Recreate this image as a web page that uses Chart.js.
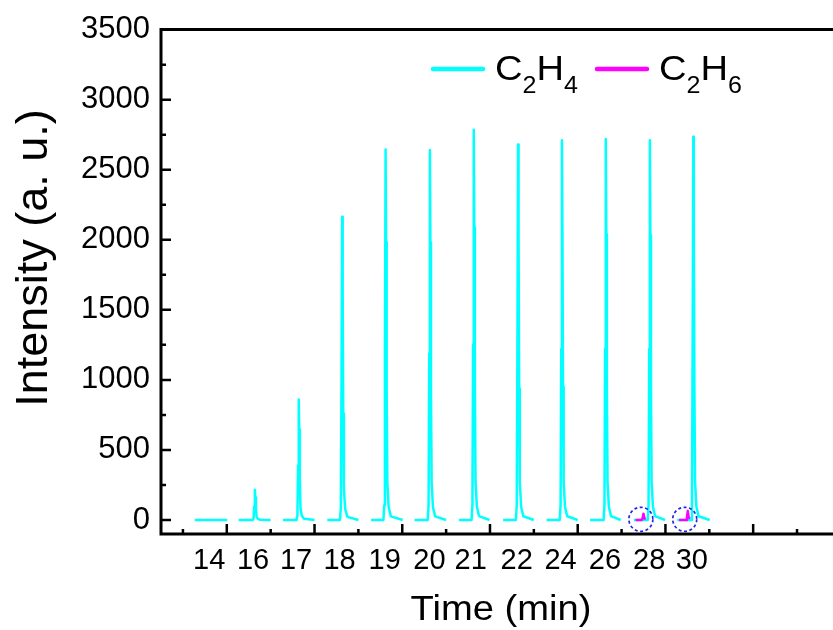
<!DOCTYPE html>
<html>
<head>
<meta charset="utf-8">
<script src="https://cdn.jsdelivr.net/npm/chart.js@4.4.0/dist/chart.umd.min.js"></script>
<style>
  html, body { margin: 0; padding: 0; background: #fff; }
  #wrap { position: relative; width: 833px; height: 630px; }
</style>
</head>
<body>
<div id="wrap"><canvas id="chart"></canvas></div>
<script>
// GC runs laid side by side: one window per sampling time (min)
const segmentLabels = ['14', '16', '17', '18', '19', '20', '21', '22', '24', '26', '28', '30'];
const labelTimes = [1.6, 2.6, 3.58, 4.57, 5.6, 6.62, 7.56, 8.61, 9.61, 10.62, 11.63, 12.6];
const yTickValues = [0, 500, 1000, 1500, 2000, 2500, 3000, 3500];
const seriesNames = ['C2H4', 'C2H6'];

// C2H4 trace, null = gap between runs
const c2h4Time = [
  1.27, 2.01, null,
  2.27, 2.59, 2.61, 2.625, 2.64, 2.652, 2.665, 2.68, 2.71, 2.76, 3.00, null,
  3.28, 3.59, 3.61, 3.625, 3.64, 3.652, 3.665, 3.68, 3.71, 3.76, 4.00, null,
  4.29, 4.58, 4.60, 4.615, 4.63, 4.642, 4.655, 4.67, 4.70, 4.75, 5.00, null,
  5.29, 5.57, 5.59, 5.605, 5.62, 5.632, 5.645, 5.66, 5.69, 5.74, 6.01, null,
  6.28, 6.58, 6.60, 6.615, 6.63, 6.642, 6.655, 6.67, 6.70, 6.75, 7.00, null,
  7.29, 7.58, 7.60, 7.615, 7.63, 7.642, 7.655, 7.67, 7.70, 7.75, 7.99, null,
  8.30, 8.59, 8.61, 8.625, 8.64, 8.652, 8.665, 8.68, 8.71, 8.76, 9.00, null,
  9.29, 9.59, 9.61, 9.625, 9.64, 9.652, 9.665, 9.68, 9.71, 9.76, 10.00, null,
  10.28, 10.59, 10.61, 10.625, 10.64, 10.652, 10.665, 10.68, 10.71, 10.76, 10.98, null,
  11.28, 11.595, 11.615, 11.63, 11.645, 11.657, 11.67, 11.685, 11.715, 11.765, 11.99, null,
  12.27, 12.585, 12.605, 12.62, 12.635, 12.647, 12.66, 12.675, 12.705, 12.755, 13.01
];
const c2h4Signal = [
  0, 0, null,
  0, 0, 9, 97, 215, 161, 75, 22, 8, 2, 0, null,
  0, 0, 34, 387, 860, 645, 301, 86, 30, 9, 0, null,
  0, 0, 87, 974, 2165, 1624, 758, 217, 76, 22, 0, null,
  0, 0, 106, 1190, 2645, 1984, 926, 265, 93, 26, 0, null,
  0, 0, 106, 1188, 2640, 1980, 924, 264, 92, 26, 0, null,
  0, 0, 111, 1253, 2785, 2089, 975, 279, 97, 28, 0, null,
  0, 0, 107, 1206, 2680, 2010, 938, 268, 94, 27, 0, null,
  0, 0, 108, 1220, 2710, 2033, 949, 271, 95, 27, 0, null,
  0, 0, 109, 1224, 2720, 2040, 952, 272, 95, 27, 0, null,
  0, 0, 108, 1220, 2710, 2033, 949, 271, 95, 27, 0, null,
  0, 0, 109, 1231, 2735, 2051, 957, 274, 96, 27, 0
];

// C2H6 only shows up in the last two runs
const c2h6Time = [11.32, 11.46, 11.48, 11.50, 11.52, 11.55, null, 12.31, 12.47, 12.49, 12.51, 12.53, 12.56];
const c2h6Signal = [0, 0, 15, 45, 12, 8, null, 0, 0, 20, 65, 18, 10];

// dashed circles marking the C2H6 peaks
const circleTimes = [11.44, 12.44];
const circleLevels = [5, 5];

const FONT = "'Liberation Sans', Arial, sans-serif";
const COLORS = ['#00ffff', '#ff00ff'];

function toPoints(times, values) {
  return times.map((t, i) => ({ x: t, y: values[i] }));
}

// black frame (no right side) with inward ticks
const frameTicks = {
  id: 'frameTicks',
  afterDraw(chart) {
    const { ctx, chartArea: a, scales } = chart;
    const x = scales.x, y = scales.y;
    ctx.save();
    ctx.strokeStyle = '#000';
    ctx.lineWidth = 3;
    ctx.beginPath();
    ctx.moveTo(a.right, a.top);
    ctx.lineTo(a.left, a.top);
    ctx.lineTo(a.left, a.bottom);
    ctx.lineTo(a.right, a.bottom);
    ctx.stroke();

    ctx.lineWidth = 2.5;
    ctx.beginPath();
    for (let v = 0; v <= 3500; v += 250) {
      const py = y.getPixelForValue(v);
      const len = v % 500 === 0 ? 10 : 5;
      ctx.moveTo(a.left, py);
      ctx.lineTo(a.left + len, py);
    }
    for (let v = 1; v <= 15; v++) {
      const px = x.getPixelForValue(v);
      const len = v % 2 === 0 ? 10 : 5;
      ctx.moveTo(px, a.bottom);
      ctx.lineTo(px, a.bottom - len);
    }
    ctx.stroke();
    ctx.restore();
  }
};

const circleMarks = {
  id: 'circleMarks',
  afterDatasetsDraw(chart) {
    const { ctx, scales } = chart;
    ctx.save();
    ctx.strokeStyle = '#2323e8';
    ctx.lineWidth = 1.7;
    ctx.setLineDash([3, 2.5]);
    circleTimes.forEach((t, i) => {
      const px = scales.x.getPixelForValue(t);
      const py = scales.y.getPixelForValue(circleLevels[i]);
      ctx.beginPath();
      ctx.arc(px, py, 12, 0, Math.PI * 2);
      ctx.stroke();
    });
    ctx.restore();
  }
};

// text with the digits drawn as subscripts, slightly widened like the original export
function drawFormula(ctx, text, x, base, big, small, stretch) {
  for (const ch of text) {
    const sub = /[0-9]/.test(ch);
    ctx.font = (sub ? small : big) + 'px ' + FONT;
    ctx.save();
    ctx.translate(x, sub ? base + 13 : base);
    ctx.scale(stretch, 1);
    ctx.fillText(ch, 0, 0);
    ctx.restore();
    x += ctx.measureText(ch).width * stretch;
  }
  return x;
}

const formulaLegend = {
  id: 'formulaLegend',
  afterDraw(chart) {
    const ctx = chart.ctx;
    ctx.save();
    ctx.fillStyle = '#000';
    ctx.textBaseline = 'alphabetic';
    let x = 433;
    seriesNames.forEach((name, i) => {
      ctx.strokeStyle = COLORS[i];
      ctx.lineWidth = 4.5;
      ctx.lineCap = 'round';
      ctx.beginPath();
      ctx.moveTo(x, 69);
      ctx.lineTo(x + 50, 69);
      ctx.stroke();
      x = drawFormula(ctx, name, x + 62, 80, 35, 23, 1.09) + 19;
    });
    ctx.restore();
  }
};

const axisTitles = {
  id: 'axisTitles',
  afterDraw(chart) {
    const ctx = chart.ctx;
    ctx.save();
    ctx.fillStyle = '#000';
    ctx.textAlign = 'center';
    ctx.textBaseline = 'alphabetic';
    ctx.font = '35px ' + FONT;
    ctx.save();
    ctx.translate(501, 620);
    ctx.scale(1.09, 1);
    ctx.fillText('Time (min)', 0, 0);
    ctx.restore();
    ctx.translate(47, 258);
    ctx.rotate(-Math.PI / 2);
    ctx.font = '45px ' + FONT;
    ctx.fillText('Intensity (a. u.)', 0, 0);
    ctx.restore();
  }
};

new Chart(document.getElementById('chart'), {
  type: 'line',
  data: {
    datasets: [
      {
        label: seriesNames[0],
        data: toPoints(c2h4Time, c2h4Signal),
        borderColor: COLORS[0],
        borderWidth: 2.5,
        order: 1
      },
      {
        label: seriesNames[1],
        data: toPoints(c2h6Time, c2h6Signal),
        borderColor: COLORS[1],
        borderWidth: 2.5,
        order: 0
      }
    ]
  },
  options: {
    responsive: true,
    maintainAspectRatio: false,
    animation: false,
    spanGaps: false,
    layout: { padding: { top: 28, left: 0, right: 0, bottom: 0 } },
    elements: {
      point: { radius: 0 },
      line: { tension: 0, borderJoinStyle: 'round', fill: false }
    },
    plugins: {
      legend: { display: false },
      tooltip: { enabled: false }
    },
    scales: {
      x: {
        type: 'linear',
        min: 0.5,
        max: 15.82,
        afterBuildTicks: s => { s.ticks = labelTimes.map(v => ({ value: v })); },
        afterFit: s => { s.height = 96; },
        grid: { display: false, drawTicks: false },
        border: { display: false },
        ticks: {
          autoSkip: false,
          maxRotation: 0,
          padding: 10,
          color: '#000',
          font: { family: FONT, size: 29 },
          callback: (v, i) => segmentLabels[i]
        }
      },
      y: {
        min: -100,
        max: 3500,
        afterBuildTicks: s => { s.ticks = yTickValues.map(v => ({ value: v })); },
        afterFit: s => { s.width = 161; },
        grid: { display: false, drawTicks: false },
        border: { display: false },
        ticks: {
          padding: 11,
          color: '#000',
          font: { family: FONT, size: 31 },
          callback: v => String(v)
        }
      }
    }
  },
  plugins: [frameTicks, circleMarks, formulaLegend, axisTitles]
});
</script>
</body>
</html>
